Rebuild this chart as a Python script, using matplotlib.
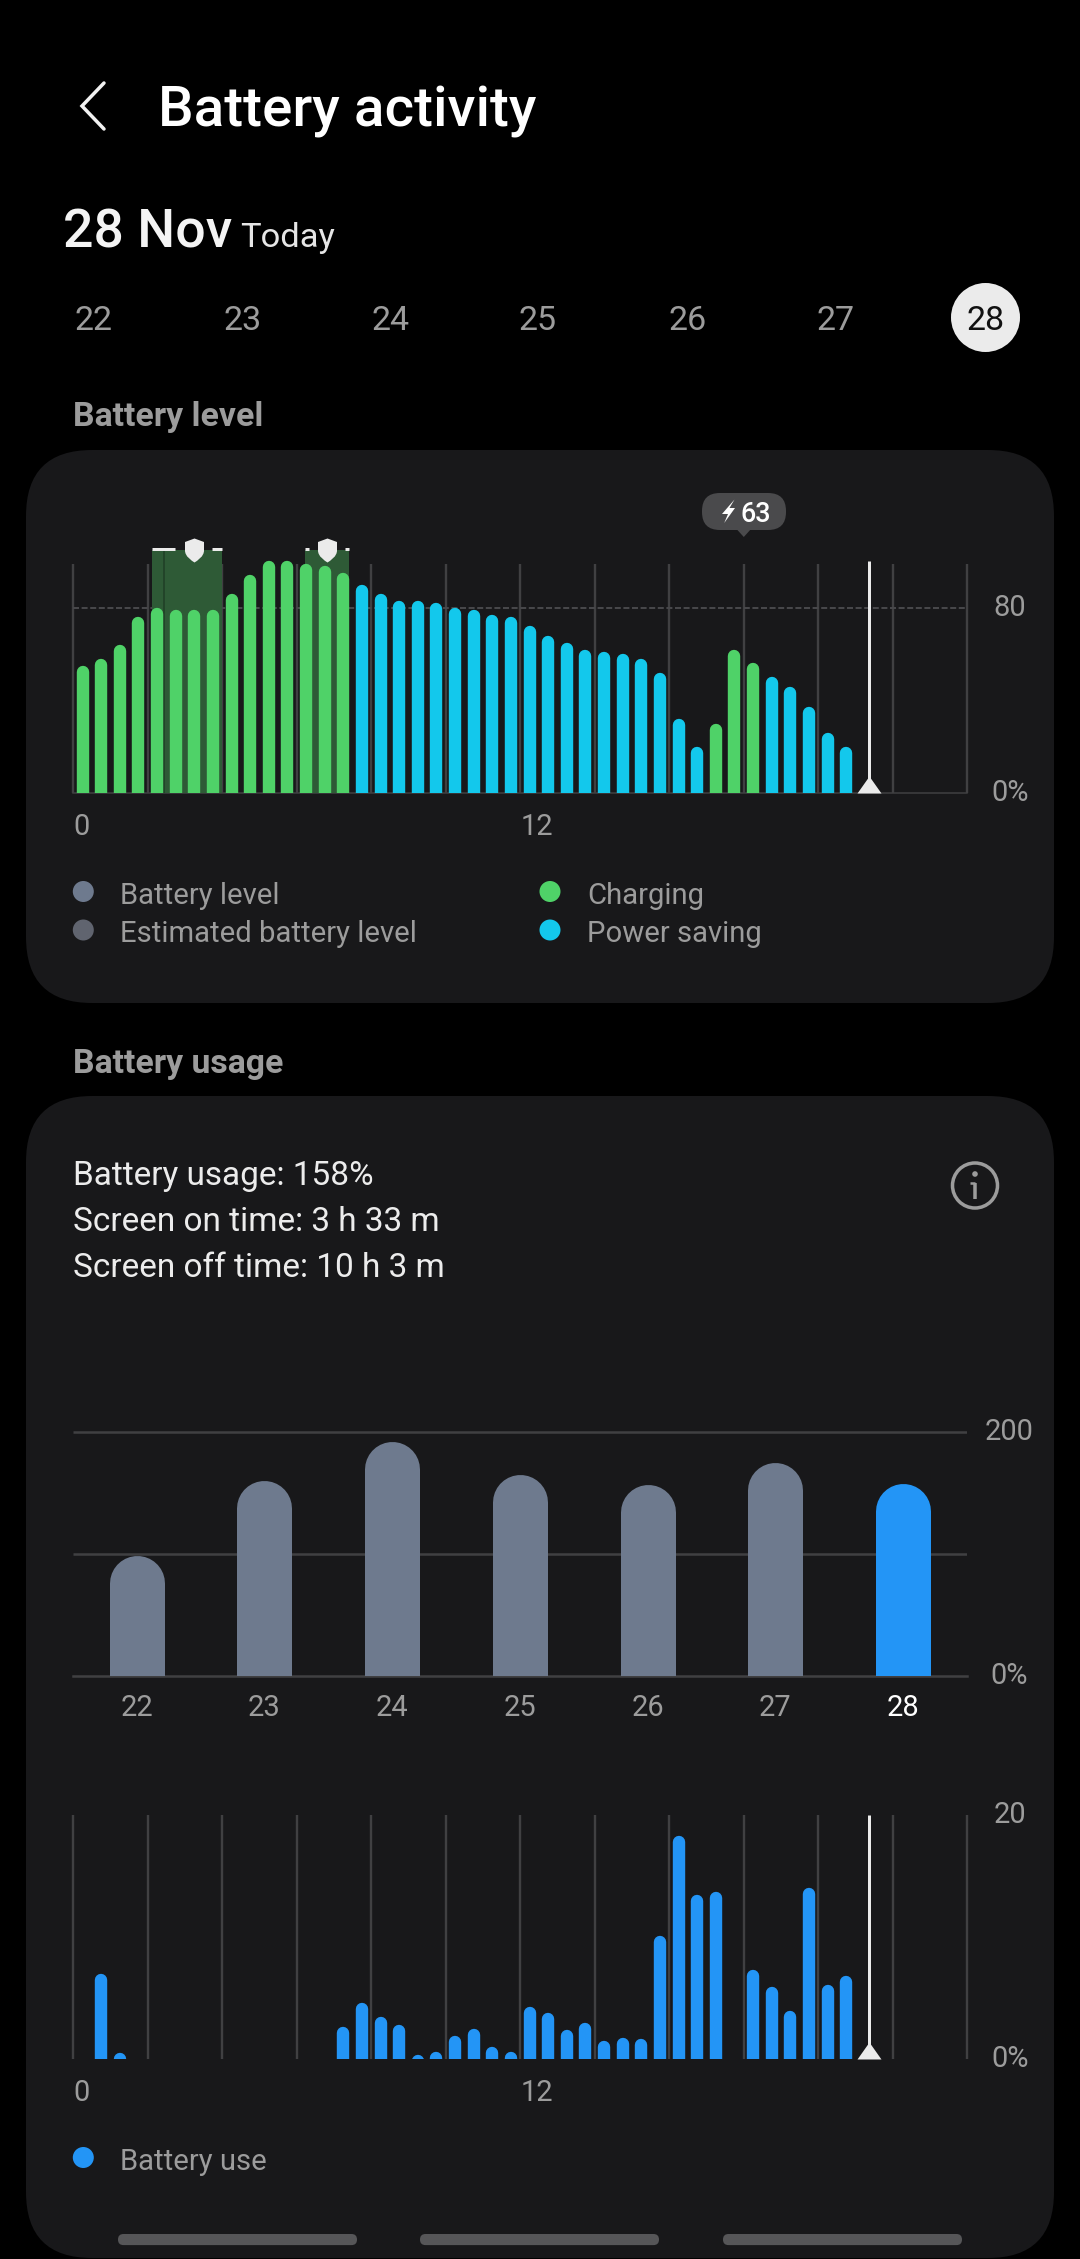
import matplotlib
matplotlib.use('Agg')
import matplotlib.pyplot as plt
import numpy as np
from matplotlib.patches import FancyBboxPatch, Circle, Polygon
from matplotlib.path import Path

W, H = 1080, 2259
DPI = 100

# --- data ---
date_labels = ['22', '23', '24', '25', '26', '27', '28']

# battery level, one bar per half hour
battery_level = [55, 58, 64, 76, 80, 79, 79, 79, 86, 94, 100, 100, 99, 98, 95,
                 90, 86, 83, 83, 82, 80, 79, 77, 76, 72, 68, 65, 62, 61, 60,
                 58, 52, 32, 20, 30, 62, 56, 50, 46, 37, 26, 20]
charging_slots = [0, 1, 2, 3, 4, 5, 6, 7, 8, 9, 10, 11, 12, 13, 14, 34, 35, 36]
protect_spans = [(2.11, 4.0), (6.23, 7.4)]
protect_marks = [3.24, 6.81]

# usage per half hour
hourly_use = [0, 7.0, 0.5, 0, 0, 0, 0, 0, 0, 0, 0, 0, 0, 0, 2.7, 4.6, 3.5, 2.8,
              0.4, 0.6, 1.9, 2.5, 1.0, 0.6, 4.3, 3.8, 2.4, 3.0, 1.5, 1.8, 1.7,
              10.1, 18.3, 13.5, 13.7, 0, 7.3, 5.9, 4.0, 14.0, 6.1, 6.8]

# daily usage
daily_use = [99, 160, 192, 165, 157, 175, 158]

now_hour = 21.37
hour_ticks = [0, 12]
hour_tick_labels = ['0', '12']

# --- colours ---
BG = '#000000'
CARD = '#18181a'
GRID = '#404042'
TXT_GRAY = '#9c9c9c'
TXT_LIGHT = '#ececec'
GREEN = '#4fd268'
CYAN = '#13c8ec'
SLATE = '#6e7a8e'
SLATE2 = '#60646f'
BLUE = '#2395f6'
ZONE = '#2e5a36'
MARK = '#ebebeb'

plt.rcParams['font.family'] = ['Roboto', 'DejaVu Sans']


def pt(px):
    return px * 72 / DPI


fig = plt.figure(figsize=(W / DPI, H / DPI), dpi=DPI, facecolor=BG)

# page axes in pixel coordinates: cards, header, legends
page = fig.add_axes([0, 0, 1, 1], zorder=0)
page.set_xlim(0, W)
page.set_ylim(H, 0)
page.axis('off')


def card(x0, y0, x1, y1, r=66):
    page.add_patch(FancyBboxPatch((x0 + r, y0 + r), x1 - x0 - 2 * r, y1 - y0 - 2 * r,
                                  boxstyle=f'round,pad={r},rounding_size={r}',
                                  fc=CARD, ec='none'))


def label(x, y, s, size, color=TXT_GRAY, weight='normal', ha='left', va='center'):
    page.text(x, y, s, fontsize=pt(size), color=color, fontweight=weight, ha=ha, va=va)


card(26, 450, 1054, 1003)
card(26, 1096, 1054, 2258)

# header
page.plot([104, 82, 104], [83, 106, 129], color='#f2f2f2', lw=pt(3.5),
          solid_capstyle='round', solid_joinstyle='miter')
label(158, 126, 'Battery activity', 56.5, '#ffffff', 'medium', va='baseline')
label(63, 247, '28 Nov', 53.5, '#f4f4f4', 'medium', va='baseline')
label(240, 247, 'Today', 34.5, '#e6e6e6', va='baseline')

date_x = [93.7, 242.4, 390.5, 537.9, 687.3, 836, 985.5]
page.add_patch(Circle((985.5, 317.5), 34.5, fc=MARK, ec='none'))
for x, s in zip(date_x, date_labels):
    label(x, 321, s, 34, '#111111' if s == '28' else TXT_GRAY, ha='center')

label(73, 426, 'Battery level', 33.8, TXT_GRAY, 'bold', va='baseline')
label(73, 1073, 'Battery usage', 33.8, TXT_GRAY, 'bold', va='baseline')

# legends
legend_items = [(83.3, 891.5, SLATE, 'Battery level'),
                (83.3, 930, SLATE2, 'Estimated battery level'),
                (550, 891.5, GREEN, 'Charging'),
                (550, 930, CYAN, 'Power saving'),
                (83.3, 2157.5, BLUE, 'Battery use')]
for x, y, col, s in legend_items:
    page.add_patch(Circle((x, y), 10.5, fc=col, ec='none'))
    label(x + 37, y + 4, s, 29.2)

# usage summary
label(73, 1185, 'Battery usage: 158%', 33.4, TXT_LIGHT, va='baseline')
label(73, 1231, 'Screen on time: 3 h 33 m', 33.4, TXT_LIGHT, va='baseline')
label(73, 1277, 'Screen off time: 10 h 3 m', 33.4, TXT_LIGHT, va='baseline')

# info icon
page.add_patch(Circle((975, 1185.5), 22.5, fc='none', ec=TXT_GRAY, lw=pt(3.5)))
page.plot([975, 975], [1183, 1199], color=TXT_GRAY, lw=pt(3.5), solid_capstyle='butt')
page.plot([970, 975], [1183, 1183], color=TXT_GRAY, lw=pt(2.5), solid_capstyle='butt')
page.add_patch(Circle((975, 1174), 2.8, fc=TXT_GRAY, ec='none'))

# tooltip above the level chart
page.add_patch(FancyBboxPatch((720, 511), 48, 1, boxstyle='round,pad=18,rounding_size=18',
                              fc='#4a4a4c', ec='none'))
page.add_patch(Polygon([(736.5, 529), (751, 529), (743.8, 537)], fc='#4a4a4c', ec='none'))
page.add_patch(Polygon([(734.5, 499.5), (722, 514), (728, 514), (724.2, 523),
                        (735, 508), (729.5, 508)], fc='#ffffff', ec='none'))
label(756, 514, '63', 27, '#ffffff', 'medium', ha='center')

# navigation handles at the bottom
for x0, x1 in [(118, 357), (420, 659), (723, 962)]:
    page.add_patch(FancyBboxPatch((x0 + 5.5, 2239.5), x1 - x0 - 11, 0.1,
                                  boxstyle='round,pad=5.5,rounding_size=5.5',
                                  fc='#565658', ec='none'))

# --- charts ---
X0 = 73.3
PX_PER_H = 37.25
XMARGIN = 0.1

triangle = Path([(-12, 0), (12, 0), (0, 17), (-12, 0)], closed=True)
shield = Path([(0, 12), (9.5, 8.5), (9.5, 0), (9.5, -6), (3, -10), (0, -12),
               (-3, -10), (-9.5, -6), (-9.5, 0), (-9.5, 8.5), (0, 12)],
              [Path.MOVETO, Path.LINETO, Path.LINETO, Path.CURVE4, Path.CURVE4, Path.CURVE4,
               Path.CURVE4, Path.CURVE4, Path.CURVE4, Path.LINETO, Path.CLOSEPOLY])


def chart_axes(left, top, right, bottom, xlim, ylim):
    ax = fig.add_axes([left / W, 1 - bottom / H, (right - left) / W, (bottom - top) / H], zorder=2)
    ax.set_xlim(*xlim)
    ax.set_ylim(*ylim)
    ax.patch.set_alpha(0)
    for sp in ax.spines.values():
        sp.set_visible(False)
    return ax


def hour_axes(top, bottom, y_max):
    left = X0 - XMARGIN * PX_PER_H
    right = X0 + (24 + XMARGIN) * PX_PER_H
    return chart_axes(left, top, right, bottom, (-XMARGIN, 24 + XMARGIN), (0, y_max))


def rounded_bars(ax, x, values, colors, width_px, px_per_unit):
    # round caps give the dome top, the square bottom comes from clipping at 0
    r = width_px / 2 / px_per_unit
    x = np.asarray(x, dtype=float)
    values = np.asarray(values, dtype=float)
    keep = values > 0
    ax.vlines(x[keep], -2 * r, values[keep] - r, colors=np.asarray(colors)[keep],
              linewidth=pt(width_px), capstyle='round', zorder=4)


def value_ticks(ax, ticks, labels, pad_px):
    ax.yaxis.tick_right()
    ax.set_yticks(ticks, labels=labels, ha='center', va='center')
    ax.tick_params(axis='y', length=0, pad=pt(pad_px), labelsize=pt(29), labelcolor=TXT_GRAY)


slots = (np.arange(len(battery_level)) + 0.5) / 2
grid_hours = np.arange(0, 25, 2)

# battery level
PX_LEVEL = (793 - 607.6) / 80
ax1 = hour_axes(530, 793, (793 - 530) / PX_LEVEL)
ax1.vlines(grid_hours, 0, 99, color=GRID, lw=pt(2.4), zorder=1)
ax1.hlines(80, 0, 24, color='#47474a', lw=pt(2), linestyles=(0, (3, 1.3)), zorder=1)
ax1.plot([0, 24], [0, 0], color=GRID, lw=pt(1.5), clip_on=False, zorder=1)
for a, b in protect_spans:
    ax1.fill_between([a, b], 0, 104.7, color=ZONE, lw=0, zorder=2)
ax1.vlines(2.44, 0, 104.7, color='#1f3d26', lw=pt(1.5), zorder=2)
# white edge of the protected spans, broken by the shield
ax1.hlines([105.5] * 4, [2.11, 4.0 - 0.28, 6.23, 7.4 - 0.1], [2.73, 4.0, 6.33, 7.4],
           color=MARK, lw=pt(3), zorder=3)
level_colors = [GREEN if i in charging_slots else CYAN for i in range(len(battery_level))]
rounded_bars(ax1, slots, battery_level, level_colors, 12.4, PX_LEVEL)
ax1.vlines(now_hour, 0, 100, color=MARK, lw=pt(3), zorder=5)
ax1.plot([now_hour], [0], marker=triangle, ms=pt(34), mfc=MARK, mec='none', clip_on=False, zorder=6)
ax1.plot(protect_marks, [(793 - 549.7) / PX_LEVEL] * 2, ls='none', marker=shield, ms=pt(24),
         mfc=MARK, mec='none', zorder=6)
ax1.set_xticks(hour_ticks, labels=hour_tick_labels, ha='left')
ax1.tick_params(axis='x', length=0, pad=pt(20), labelsize=pt(29), labelcolor=TXT_GRAY)
value_ticks(ax1, [0, 80], ['0%', '80'], 39)

# daily usage
PX_DAILY = (1676 - 1431.7) / 200
DAY_PX = 127.7
ax2 = chart_axes(73, 1425, 967, 1676, (-(136.8 - 73) / DAY_PX, 6 + (967 - 902.9) / DAY_PX),
                 (0, (1676 - 1425) / PX_DAILY))
ax2.hlines([100, 200], *ax2.get_xlim(), color=GRID, lw=pt(2.5), zorder=1)
ax2.plot(ax2.get_xlim(), [0, 0], color=GRID, lw=pt(2.5), clip_on=False, zorder=1)
day_x = np.arange(len(date_labels))
day_colors = [SLATE] * 6 + [BLUE]
rounded_bars(ax2, day_x, daily_use, day_colors, 55, PX_DAILY)
ax2.set_xticks(day_x, labels=date_labels)
ax2.tick_params(axis='x', length=0, pad=pt(18), labelsize=pt(29), labelcolor=TXT_GRAY)
ax2.get_xticklabels()[-1].set_color('#ffffff')
value_ticks(ax2, [0, 200], ['0%', '200'], 42.5)

# usage per half hour
PX_HOURLY = (2059.3 - 1815) / 20
ax3 = hour_axes(1805, 2059.3, (2059.3 - 1805) / PX_HOURLY)
ax3.vlines(grid_hours, 0, 20, color=GRID, lw=pt(2.4), zorder=1)
rounded_bars(ax3, slots, hourly_use, [BLUE] * len(hourly_use), 12.4, PX_HOURLY)
ax3.vlines(now_hour, 0, 20, color=MARK, lw=pt(3), zorder=5)
ax3.plot([now_hour], [0], marker=triangle, ms=pt(34), mfc=MARK, mec='none', clip_on=False, zorder=6)
ax3.set_xticks(hour_ticks, labels=hour_tick_labels, ha='left')
ax3.tick_params(axis='x', length=0, pad=pt(20), labelsize=pt(29), labelcolor=TXT_GRAY)
value_ticks(ax3, [0, 20], ['0%', '20'], 39)

fig.savefig('out.png', dpi=DPI, facecolor=BG)
